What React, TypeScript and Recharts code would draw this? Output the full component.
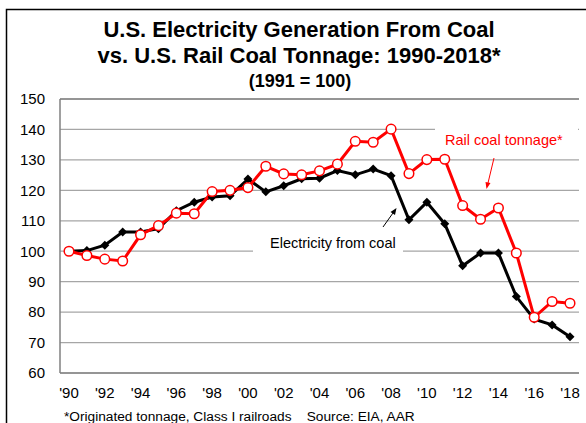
import React from "react";
import { ComposedChart, Line, XAxis, YAxis, CartesianGrid, ReferenceLine } from "recharts";

// index values, 1991 = 100
const years = [
  "'90", "'91", "'92", "'93", "'94", "'95", "'96", "'97", "'98", "'99",
  "'00", "'01", "'02", "'03", "'04", "'05", "'06", "'07", "'08", "'09",
  "'10", "'11", "'12", "'13", "'14", "'15", "'16", "'17", "'18",
];
const electricity = [
  100, 100.2, 102, 106.3, 106.3, 107.4, 113.3, 116.1, 117.8, 118.2,
  123.7, 119.5, 121.5, 123.8, 124.0, 126.5, 125.1, 127.0, 124.8, 110.3,
  116.1, 109.0, 95.2, 99.4, 99.4, 85.1, 77.7, 75.8, 71.9,
];
const railTonnage = [
  100, 98.6, 97.4, 96.8, 105.4, 108.4, 112.5, 112.3, 119.6, 120.0,
  120.9, 127.9, 125.4, 125.1, 126.4, 128.6, 136.1, 135.8, 140.1, 125.5,
  130.1, 130.2, 115.0, 110.5, 114.2, 99.4, 78.3, 83.5, 82.9,
];
const yTicks = [60, 70, 80, 90, 100, 110, 120, 130, 140, 150];

const data = years.map((y, i) => ({ year: y, electricity: electricity[i], rail: railTonnage[i] }));

const FONT = "'Liberation Sans', Arial, sans-serif";

function Diamond(props: any) {
  const { cx, cy } = props;
  if (cx == null || cy == null) return null;
  const s = 4.5;
  return (
    <polygon
      points={`${cx},${cy - s} ${cx + s},${cy} ${cx},${cy + s} ${cx - s},${cy}`}
      fill="#000"
    />
  );
}

function Ring(props: any) {
  const { cx, cy } = props;
  if (cx == null || cy == null) return null;
  return <circle cx={cx} cy={cy} r={4.8} fill="#fff" stroke="#ff0000" strokeWidth={1.5} />;
}

export default function App() {
  return (
    <div style={{ position: "absolute", left: 0, top: 0, width: 586, height: 423, overflow: "hidden", background: "#fff" }}>
      <ComposedChart
        width={586}
        height={423}
        data={data}
        margin={{ top: 99, right: 7, bottom: 0, left: 0 }}
      >
        <CartesianGrid vertical={false} stroke="#a6a6a6" strokeWidth={1.2} />
        <XAxis
          dataKey="year"
          interval={1}
          height={50}
          padding={{ left: 9, right: 9 }}
          tickLine={false}
          tickSize={0}
          tickMargin={14}
          axisLine={{ stroke: "#808080", strokeWidth: 1.5 }}
          tick={{ fill: "#000", fontSize: 15, fontFamily: FONT }}
        />
        <YAxis
          domain={[60, 150]}
          ticks={yTicks}
          width={60}
          tickLine={false}
          tickSize={0}
          tickMargin={15}
          axisLine={{ stroke: "#808080", strokeWidth: 1.5 }}
          tick={{ fill: "#000", fontSize: 15, fontFamily: FONT }}
        />
        <YAxis
          yAxisId="r"
          orientation="right"
          domain={[60, 150]}
          width={0}
          tick={false}
          tickLine={false}
          axisLine={{ stroke: "#808080", strokeWidth: 1.5 }}
        />
        <ReferenceLine y={150} stroke="#808080" strokeWidth={1.5} />
        <Line
          dataKey="electricity"
          stroke="#000"
          strokeWidth={3}
          dot={<Diamond />}
          activeDot={false}
          isAnimationActive={false}
        />
        <Line
          dataKey="rail"
          stroke="#ff0000"
          strokeWidth={3}
          dot={<Ring />}
          activeDot={false}
          isAnimationActive={false}
        />
      </ComposedChart>

      <svg
        width={586}
        height={423}
        style={{ position: "absolute", left: 0, top: 0, pointerEvents: "none" }}
        fontFamily={FONT}
      >
        <rect x={6.5} y={9.5} width={700} height={600} fill="none" stroke="#000" strokeWidth={1.5} />

        <text x={299} y={37} textAnchor="middle" fontSize={22} fontWeight="bold">
          U.S. Electricity Generation From Coal
        </text>
        <text x={299} y={63} textAnchor="middle" fontSize={22} fontWeight="bold">
          vs. U.S. Rail Coal Tonnage: 1990-2018*
        </text>
        <text x={300} y={86.5} textAnchor="middle" fontSize={18} fontWeight="bold">
          (1991 = 100)
        </text>

        {/* annotation boxes hide the gridlines behind the labels */}
        <rect x={435} y={124} width={143} height={22} fill="#fff" />
        <text x={445} y={145} fontSize={14.5} fill="#ff0000">Rail coal tonnage*</text>
        <line x1={494} y1={158} x2={488} y2={183} stroke="#ff0000" strokeWidth={1} />
        <polygon points="486.5,189 485.5,182 490.5,183" fill="#ff0000" />

        <rect x={253} y={236} width={150} height={20} fill="#fff" />
        <text x={270} y={248} fontSize={14.5} fill="#000">Electricity from coal</text>
        <line x1={383} y1={227} x2={393} y2={213} stroke="#000" strokeWidth={1} />
        <polygon points="396.5,208 395,215 390.5,212" fill="#000" />

        <text x={64} y={420.5} fontSize={13.7} fill="#000">
          *Originated tonnage, Class I railroads{"\u00a0\u00a0\u00a0\u00a0"}Source: EIA, AAR
        </text>
      </svg>
    </div>
  );
}
